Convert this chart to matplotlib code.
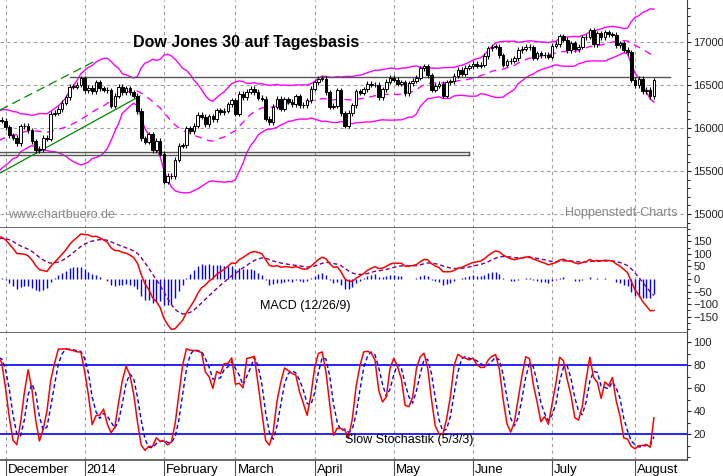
import numpy as np
import matplotlib
matplotlib.use("Agg")
import matplotlib.pyplot as plt
import matplotlib.transforms as mt

plt.rcParams["font.family"] = "Liberation Sans"

#---------------------------------------------------------------data
# daily closes Dow Jones (Oct/Nov 2013 only for indicator warmup)
close_pre = [15191, 15133, 15000, 15073, 14936, 14776, 14803, 15127, 15238, 15301, 15168, 15374,
             15372, 15399, 15392, 15468, 15414, 15509, 15570, 15569, 15680, 15618, 15546,
             15615, 15639, 15619, 15746, 15593, 15762, 15783, 15750, 15821, 15876, 15962, 15976,
             15967, 15901, 16010, 16064, 16073, 16072, 16097]
close_nov = [16086]
close_dec = [16008, 15915, 15889, 15821, 16020, 16025, 15973, 15844, 15739, 15755, 15884, 15875,
             16168, 16179, 16221, 16295, 16358, 16479, 16479, 16505, 16577]
close_jan = [16441, 16470, 16426, 16531, 16463, 16445, 16437, 16258, 16374, 16482, 16418, 16459,
             16414, 16374, 16198, 15879, 15838, 15929, 15739, 15849, 15699]
close_feb = [15373, 15445, 15441, 15629, 15794, 15801, 15995, 15964, 16027, 16154, 16130, 16041,
             16134, 16103, 16208, 16180, 16199, 16273, 16322]
close_mar = [16168, 16395, 16361, 16422, 16453, 16419, 16351, 16340, 16109, 16066, 16248, 16337,
             16223, 16332, 16303, 16277, 16368, 16268, 16264, 16323, 16458]
close_apr = [16533, 16573, 16573, 16413, 16246, 16257, 16438, 16171, 16027, 16174, 16263, 16425,
             16409, 16449, 16514, 16501, 16502, 16361, 16449, 16536, 16581]
close_may = [16559, 16513, 16530, 16401, 16518, 16551, 16584, 16695, 16715, 16613, 16447, 16492,
             16512, 16374, 16533, 16544, 16607, 16676, 16633, 16699, 16717]
close_jun = [16743, 16722, 16738, 16837, 16925, 16944, 16946, 16843, 16735, 16776, 16781, 16808,
             16907, 16921, 16947, 16937, 16818, 16867, 16846, 16851, 16827]
close_jul = [16957, 16977, 17068, 17025, 16907, 16986, 16915, 16944, 17055, 17061, 17138, 16977,
             17100, 17052, 17114, 17087, 17083, 16961, 16983, 16912, 16881, 16563]
close_aug = [16494, 16569, 16429, 16443, 16368, 16553]

months = ["December", "2014", "February", "March", "April", "May", "June", "July", "August"]
price_ticks = [15000, 15500, 16000, 16500, 17000]
macd_ticks = [150, 100, 50, 0, -50, -100, -150]
stoch_ticks = [20, 40, 60, 80, 100]
resist_line = 16590
support_box = [15680, 15720]

#---------------------------------------------------------------prep
visible = [close_nov, close_dec, close_jan, close_feb, close_mar, close_apr,
           close_may, close_jun, close_jul, close_aug]
close = np.array(close_pre + sum(visible, []), dtype=float)
n_pre = len(close_pre)
idx = np.arange(len(close)) - n_pre
opn = np.r_[close[0], close[:-1]]
wick = 30.0
high = np.maximum(opn, close) + wick
low = np.minimum(opn, close) - wick

starts = []
pos = len(close_nov)
for m in visible[1:]:
    starts.append(pos)
    pos += len(m)

def ema(x, n):
    a = 2.0 / (n + 1)
    out = np.empty_like(x)
    out[0] = x[0]
    for i in range(1, len(x)):
        out[i] = a * x[i] + (1 - a) * out[i - 1]
    return out

def sma(x, n):
    out = np.full_like(x, np.nan)
    for i in range(n - 1, len(x)):
        out[i] = np.mean(x[i - n + 1:i + 1])
    return out

mid = sma(close, 20)
sd = np.array([np.std(close[max(0, i - 19):i + 1]) for i in range(len(close))])
upper, lower = mid + 2 * sd, mid - 2 * sd

macd = ema(close, 12) - ema(close, 26)
sig = ema(macd, 9)
hist = macd - sig

rawk = np.array([(close[i] - low[max(0, i - 4):i + 1].min()) /
                 (high[max(0, i - 4):i + 1].max() - low[max(0, i - 4):i + 1].min()) * 100
                 for i in range(len(close))])
slowk = sma(rawk, 3)
slowd = sma(slowk, 3)

#---------------------------------------------------------------plot
W, H = 723, 476
fig = plt.figure(figsize=(W / 100, H / 100), dpi=100)
pw = 687 / W
ax1 = fig.add_axes([0, (H - 228) / H, pw, 228 / H])
ax2 = fig.add_axes([0, (H - 333) / H, pw, 105 / H])
ax3 = fig.add_axes([0, (H - 460) / H, pw, 127 / H])

x0 = 1 - 5.5 / 3.77
xlim = (x0, x0 + 687 / 3.77)
grid = dict(color="#a0a0a0", ls=(0, (3, 3)), lw=0.8, zorder=0)

for ax in (ax1, ax2, ax3):
    ax.set_xlim(*xlim)
    for s in ("left", "top"):
        ax.spines[s].set_visible(False)
    ax.spines["right"].set_color("#404040")
    ax.spines["bottom"].set_color("#505050")
    ax.spines["bottom"].set_linewidth(1.2)
    ax.yaxis.tick_right()
    ax.tick_params(axis="y", direction="out", length=3, labelsize=8, pad=1.5, colors="#222222")
    ax.tick_params(axis="y", which="minor", length=2)
    for s in starts:
        ax.axvline(s, **grid)

# main
ax1.set_ylim(14837, 17488)
ax1.set_yticks(price_ticks)
ax1.set_yticks(np.arange(14900, 17500, 100), minor=True)
for p in price_ticks:
    ax1.axhline(p, **grid)
for i in np.where(idx >= -1)[0]:
    x = idx[i]
    o, c = opn[i], close[i]
    ax1.vlines(x, low[i], high[i], color="black", lw=0.8, zorder=3)
    ax1.bar(x, max(abs(c - o), 4), bottom=min(o, c), width=0.7,
            color="white" if c >= o else "black", edgecolor="black", lw=0.7, zorder=4)
ax1.plot(idx, upper, color="#ff00ff", lw=1, zorder=2)
ax1.plot(idx, lower, color="#ff00ff", lw=1, zorder=2)
ax1.plot(idx, mid, color="#ff00ff", lw=1, ls=(0, (5, 4)), zorder=2)
ax1.plot([18, xlim[1] - 4.5], [resist_line] * 2, color="#555555", lw=1, zorder=2)
ax1.plot([x0, 124], [support_box[0]] * 2, color="#555555", lw=1, zorder=2)
ax1.plot([x0, 124], [support_box[1]] * 2, color="#555555", lw=1, zorder=2)
ax1.plot([124, 124], support_box, color="#555555", lw=1, zorder=2)
ax1.plot([x0, 36.7], [15476, 16372], color="#008800", lw=0.9, zorder=2)
ax1.plot([x0, 25.3], [16209, 16791], color="#008800", lw=0.9, ls=(0, (7, 4)), zorder=2)
ax1.text(133 / 687, 1 - 43 / 228, "Dow Jones 30 auf Tagesbasis", transform=ax1.transAxes,
         fontsize=11.5, fontweight="bold", va="center")
ax1.text(8 / 687, 1 - 215 / 228, "www.chartbuero.de", transform=ax1.transAxes,
         fontsize=9, color="#888888", va="center")
ax1.text(565 / 687, 1 - 213 / 228, "Hoppenstedt-Charts", transform=ax1.transAxes,
         fontsize=9, color="#888888", va="center")
ax1.set_xticks([])

# macd
ax2.set_ylim(-215, 203)
ax2.set_yticks(macd_ticks)
ax2.set_yticks(np.arange(-200, 201, 25), minor=True)
ax2.vlines(idx, 0, hist, color="#0000ff", lw=1.0, zorder=2)
ax2.plot(idx, sig, color="#800080", lw=1, ls=(0, (3, 2)), zorder=3)
ax2.plot(idx, macd, color="#ff0000", lw=1.1, zorder=4)
ax2.text(260 / 687, 1 - 78 / 105, "MACD (12/26/9)", transform=ax2.transAxes,
         fontsize=9, va="center")
ax2.set_xticks([])

# stochastik
ax3.set_ylim(-2.5, 108)
ax3.set_yticks(stoch_ticks)
ax3.set_yticks(np.arange(0, 101, 10), minor=True)
ax3.axhline(80, color="#0000ff", lw=1.2, zorder=1)
ax3.axhline(20, color="#0000ff", lw=1.2, zorder=1)
ax3.plot(idx, slowd, color="#0000ff", lw=1, ls=(0, (3, 2)), zorder=3)
ax3.plot(idx, slowk, color="#ff0000", lw=1.1, zorder=4)
ax3.text(345 / 687, 1 - 107 / 127, "Slow Stochastik (5/3/3)", transform=ax3.transAxes,
         fontsize=9, va="center", zorder=5)
ax3.set_xticks(starts)
ax3.set_xticklabels(months, ha="left", fontsize=9.5)
ax3.tick_params(axis="x", direction="out", length=16, pad=-13, color="#505050")
offs = mt.ScaledTranslation(2 / 100, 0, fig.dpi_scale_trans)
for lab in ax3.get_xticklabels():
    lab.set_transform(lab.get_transform() + offs)

fig.savefig("out.png", dpi=100, facecolor="white")
